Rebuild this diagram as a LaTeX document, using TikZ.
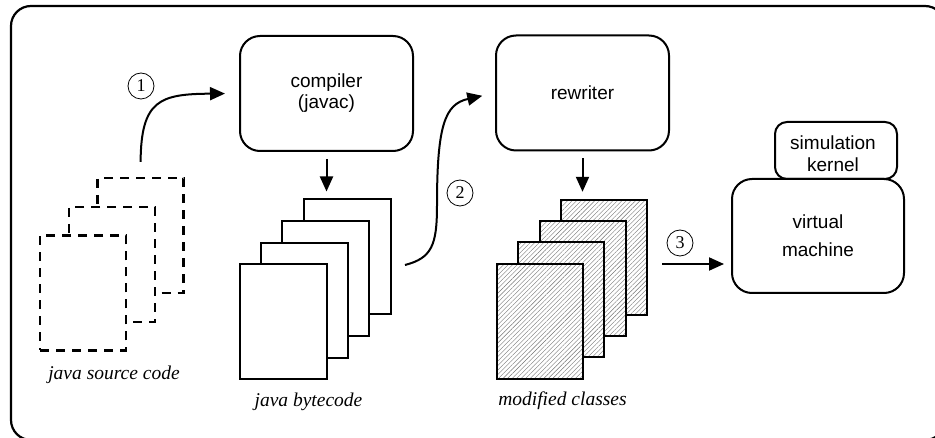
\documentclass[tikz,border=0pt]{standalone}
\usepackage{fontspec}
\setmainfont{Liberation Serif}
\newfontfamily\boxfont{Liberation Sans}
\usetikzlibrary{arrows.meta,patterns.meta}
\begin{document}
\begin{tikzpicture}[x=1pt,y=-1pt,
  proc/.style={draw, line width=2pt, rounded corners=20pt, minimum width=173pt, minimum height=115pt, align=center, fill=white, inner sep=0pt, font=\boxfont\fontsize{19}{21}\selectfont},
  srcpage/.style={draw, line width=2.2pt, dash pattern=on 9pt off 7pt, fill=white, minimum width=86pt, minimum height=115pt, inner sep=0pt},
  bcpage/.style={draw, line width=2pt, fill=white, minimum width=87pt, minimum height=115pt, inner sep=0pt},
  modpage/.style={draw, line width=2pt, preaction={fill=white}, pattern={Lines[angle=45,distance=3.2pt,line width=0.4pt]}, pattern color=black!55, minimum width=86pt, minimum height=115pt, inner sep=0pt},
  lab/.style={font=\itshape\fontsize{19.5}{22}\selectfont, inner sep=0pt},
  num/.style={circle, draw, line width=0.8pt, minimum size=26pt, inner sep=0pt, font=\fontsize{18}{18}\selectfont},
  arr/.style={line width=2pt, -{Triangle[length=15pt,width=13pt]}}
]
\useasboundingbox (0,0) rectangle (935,438);
% outer frame
\draw[line width=2.2pt, rounded corners=20pt] (11,6) rectangle (945,440);

% java source pages
\node[srcpage] (s3) at (140.5,235.5) {};
\node[srcpage] (s2) at (112,264.5) {};
\node[srcpage] (s1) at (83,293) {};
\node[lab] (srclab) at (114,374.5) {java source code};

% compiler
\node[proc] (comp) at (326.5,93.5) {compiler\\(javac)};

% bytecode pages
\node[bcpage] (b4) at (347,257) {};
\node[bcpage] (b3) at (325.5,279) {};
\node[bcpage] (b2) at (304.5,300.5) {};
\node[bcpage] (b1) at (283.5,321.5) {};
\node[lab] (bclab) at (308.5,401.5) {java bytecode};

% rewriter
\node[proc] (rew) at (582.5,93) {rewriter};

% modified classes
\node[modpage] (m4) at (604,257.5) {};
\node[modpage] (m3) at (583,279) {};
\node[modpage] (m2) at (561,300) {};
\node[modpage] (m1) at (540,321.5) {};
\node[lab] (mlab) at (562.5,400.5) {modified classes};

% simulation kernel and virtual machine
\node[draw, line width=2pt, rounded corners=12pt, minimum width=122pt, minimum height=57pt, fill=white] (simk) at (836,150.5) {};
\node[font=\boxfont\fontsize{19}{22}\selectfont, align=center, inner sep=0pt] (simtxt) at (833,154) {simulation\\kernel};
\node[proc, minimum width=172pt, minimum height=114pt, font=\boxfont\fontsize{19}{28}\selectfont] (vm) at (818,236) {virtual\\machine};

% numbers
\node[num] (c1) at (141,86) {1};
\node[num] (c2) at (460,193) {2};
\node[num] (c3) at (680,243) {3};

% arrows
\draw[arr, shorten <=15pt, shorten >=14pt] (s3.north) .. controls (141,100) and (160,94) .. (comp.west);
\draw[arr, shorten <=7pt, shorten >=7pt] (comp.south) -- (comp.south |- b4.north);
\coordinate (a2s) at (405,265);
\draw[arr, shorten >=13pt] (a2s) .. controls (432,258) and (437,245) .. (437,205) .. controls (437,125) and (445,104) .. (rew.west);
\draw[arr, shorten <=7pt, shorten >=8pt] (rew.south) -- (rew.south |- m4.north);
\coordinate (a3s) at (662,264);
\draw[arr, shorten >=7pt] (a3s) -- (a3s -| vm.west);
\end{tikzpicture}
\end{document}
